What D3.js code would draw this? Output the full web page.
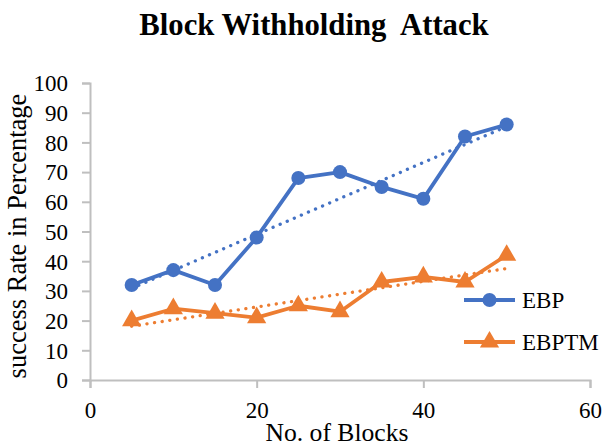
<!DOCTYPE html>
<html><head><meta charset="utf-8">
<script src="https://cdn.jsdelivr.net/npm/d3@7"></script>
<style>body{margin:0;background:#fff}svg{display:block}</style>
</head><body>
<script>
const blocks = [5,10,15,20,25,30,35,40,45,50];
const ebp = [32,37,32,48,68,70,65,61,82,86];
const ebptm = [20,24,22.5,21,25,23,33,34.7,33,42];
const xTicks = [0,20,40,60];
const yTicks = [0,10,20,30,40,50,60,70,80,90,100];
const seriesNames = ["EBP","EBPTM"];
const colors = ["#4472c4","#ed7d31"];

const W=604,H=447;
const svg=d3.select("body").append("svg").attr("width",W).attr("height",H);
const font="'Liberation Serif','Times New Roman',serif";
const x=d3.scaleLinear().domain([0,60]).range([90,590]);
const y=d3.scaleLinear().domain([0,100]).range([380,83]);

// axes
const ax=svg.append("g").attr("transform","translate(0,380)").call(d3.axisBottom(x).tickValues(xTicks).tickSize(8).tickPadding(14));
const ay=svg.append("g").attr("transform","translate(90,0)").call(d3.axisLeft(y).tickValues(yTicks).tickSize(8).tickPadding(14));
[ax,ay].forEach(g=>{
  g.attr("font-family",font);
  g.select(".domain").attr("stroke","#bfbfbf").attr("stroke-width",2);
  g.selectAll(".tick line").attr("stroke","#bfbfbf").attr("stroke-width",2);
  g.selectAll("text").attr("font-family",font).attr("font-size",23).attr("fill","#000");
});
ay.selectAll("text").attr("dy","0.34em");

function trend(xs,ys){
  const n=xs.length,mx=d3.mean(xs),my=d3.mean(ys);
  const b=d3.sum(xs.map((v,i)=>(v-mx)*(ys[i]-my)))/d3.sum(xs.map(v=>(v-mx)*(v-mx)));
  const a=my-b*mx;
  return [[xs[0],a+b*xs[0]],[xs[n-1],a+b*xs[n-1]]];
}
const line=d3.line().x(d=>x(d[0])).y(d=>y(d[1]));
const data=[ebp,ebptm];
data.forEach((vals,si)=>{
  svg.append("path").attr("d",line(trend(blocks,vals))).attr("fill","none")
    .attr("stroke",colors[si]).attr("stroke-width",3.3).attr("stroke-dasharray","0.1 7.6").attr("stroke-linecap","round");
});
data.forEach((vals,si)=>{
  const pts=blocks.map((b,i)=>[b,vals[i]]);
  svg.append("path").attr("d",line(pts)).attr("fill","none").attr("stroke",colors[si]).attr("stroke-width",3.8).attr("stroke-linejoin","round");
  const sym=d3.symbol().type(si===0?d3.symbolCircle:d3.symbolTriangle).size(si===0?155:160);
  svg.selectAll(null).data(pts).enter().append("path").attr("d",sym)
    .attr("transform",d=>`translate(${x(d[0])},${y(d[1])})`).attr("fill",colors[si]);
});

// legend
seriesNames.forEach((nm,i)=>{
  const ly=300+i*42;
  const g=svg.append("g");
  g.append("line").attr("x1",464).attr("x2",515).attr("y1",ly).attr("y2",ly).attr("stroke",colors[i]).attr("stroke-width",3.8);
  g.append("path").attr("d",d3.symbol().type(i===0?d3.symbolCircle:d3.symbolTriangle).size(i===0?155:160)).attr("transform",`translate(489.5,${ly})`).attr("fill",colors[i]);
  g.append("text").attr("x",522).attr("y",ly+8).attr("font-family",font).attr("font-size",23).text(nm);
});

svg.append("text").attr("x",314).attr("y",35).attr("text-anchor","middle").attr("font-family",font)
  .attr("font-weight","bold").attr("font-size",30.7).style("white-space","pre").text("Block Withholding  Attack");
svg.append("text").attr("x",337).attr("y",441).attr("text-anchor","middle").attr("font-family",font).attr("font-size",25.6).text("No. of Blocks");
svg.append("text").attr("transform","translate(26,236) rotate(-90)").attr("text-anchor","middle").attr("font-family",font).attr("font-size",26.5).text("success Rate in Percentage");
</script>
</body></html>
